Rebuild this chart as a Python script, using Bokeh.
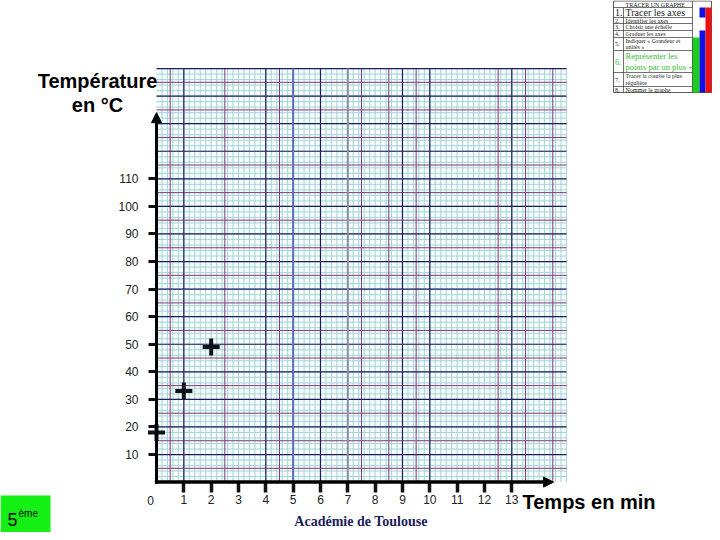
import numpy as np
from bokeh.plotting import figure
from bokeh.models import Range1d, LinearAxis, FixedTicker, Arrow, NormalHead, ColumnDataSource
from bokeh.embed import file_html
from bokeh.resources import INLINE
from bokeh.core.properties import value

# ---------------- data ----------------
time_min = [0, 1, 2]
temperature_c = [18, 33, 49]
x_tick_values = list(range(1, 14))
y_tick_values = list(range(10, 111, 10))
x_zero_label = "0"
x_title = "Temps en min"
y_title = ["Température", "en °C"]
footer = "Académie de Toulouse"
level_main, level_sup = "5", "ème"
steps_header = "TRACER UN GRAPHE"
steps_numbers = ["1.", "2.", "3.", "4.", "5.", "6.", "7.", "8."]
steps_text = [
    ["Tracer les axes"],
    ["Identifier les axes"],
    ["Choisir une échelle"],
    ["Graduer les axes"],
    ["Indiquer « Grandeur et", "unités »"],
    ["Représenter les", "points par un plus +"],
    ["Tracer la courbe la plus", "régulière"],
    ["Nommer le graphe"],
]

# ---------------- layout (pixels of the 720x540 slide) ----------------
ORIGIN_X, PX_PER_MIN = 156.0, 27.33
ORIGIN_Y, PX_PER_DEG = 481.6, 2.757
W, H = 712, 532
GRID_X, GRID_Y = 15, 150


def to_x(px):
    return (px - ORIGIN_X) / PX_PER_MIN


def to_y(py):
    return (ORIGIN_Y - py) / PX_PER_DEG


p = figure(width=W, height=H,
           x_range=Range1d(to_x(0), to_x(W)),
           y_range=Range1d(to_y(H), to_y(0)),
           x_axis_type=None, y_axis_type=None,
           output_backend="svg", toolbar_location=None,
           min_border=0, outline_line_color=None,
           background_fill_color="white", border_fill_color="white")
p.extra_x_ranges = {"px": Range1d(0, W)}
p.extra_y_ranges = {"py": Range1d(H, 0)}
PX = dict(x_range_name="px", y_range_name="py")

# ---------------- graph paper ----------------
p.quad(left=0, right=GRID_X, bottom=0, top=GRID_Y, fill_color="#f4fcfc", line_color=None)
teal_v = np.round(np.arange(0.2, GRID_X + 0.01, 0.2), 2)
teal_h = np.arange(2, GRID_Y + 1, 2)
p.segment(x0=teal_v, y0=0, x1=teal_v, y1=GRID_Y, line_color="#a3cfd3", line_width=0.9)
p.segment(x0=0, y0=teal_h, x1=GRID_X, y1=teal_h, line_color="#a3cfd3", line_width=0.9)
purple_v = [0.5, 2.5, 4.5, 7.5, 8.5, 9.5, 12.5, 13.5, 14.5]
purple_h = np.arange(5, GRID_Y, 10)
p.segment(x0=purple_v, y0=0, x1=purple_v, y1=GRID_Y, line_color="#86387a", line_width=1)
p.segment(x0=0, y0=purple_h, x1=GRID_X, y1=purple_h, line_color="#86387a", line_width=1)
navy_v = [1, 4, 6, 9, 10, 13]
navy_h = np.arange(10, GRID_Y + 1, 10)
p.segment(x0=navy_v, y0=0, x1=navy_v, y1=GRID_Y, line_color="#1d1d5e", line_width=1.2)
p.segment(x0=0, y0=navy_h, x1=GRID_X, y1=navy_h, line_color="#1d1d5e", line_width=1.2)
p.segment(x0=[5], y0=0, x1=[5], y1=GRID_Y, line_color="#5b6fb8", line_width=2)
p.segment(x0=[7], y0=0, x1=[7], y1=GRID_Y, line_color="#8a8ea8", line_width=2)

# ---------------- axes ----------------
common = dict(fixed_location=0, axis_line_color=None, major_tick_in=0,
              major_tick_line_color="#111111", minor_tick_line_color=None,
              major_label_text_font="Liberation Sans", major_label_text_font_size="12px",
              major_label_text_color="#222222")
yaxis = LinearAxis(ticker=FixedTicker(ticks=y_tick_values), major_tick_out=8,
                   major_tick_line_width=3, major_label_standoff=10, **common)
xaxis = LinearAxis(ticker=FixedTicker(ticks=x_tick_values), major_tick_out=10,
                   major_tick_line_width=3.5, major_label_standoff=3, **common)
p.add_layout(yaxis, "left")
p.add_layout(xaxis, "below")

p.add_layout(Arrow(end=NormalHead(size=10, fill_color="black", line_color="black", line_width=1),
                   x_start=0, y_start=-0.6, x_end=0, y_end=134.0,
                   line_width=3, line_color="black"))
p.add_layout(Arrow(end=NormalHead(size=10, fill_color="black", line_color="black", line_width=1),
                   x_start=-0.06, y_start=0, x_end=14.53, y_end=0,
                   line_width=3.5, line_color="black"))

p.text(x=[-0.22], y=[to_y(500)], text=[x_zero_label], text_align="center", text_baseline="middle",
       text_font=value("Liberation Sans"), text_font_size="12px", text_color="#222222")

# ---------------- points ----------------
p.scatter(time_min, temperature_c, marker="cross", size=17, line_width=4, line_color="#10101c")

# ---------------- titles ----------------
p.text(x=[97, 97], y=[80, 104], text=y_title, text_align="center", text_baseline="middle",
       text_font=value("Liberation Sans"), text_font_style="bold", text_font_size="20px",
       text_color="black", **PX)
p.text(x=[522], y=[501], text=[x_title], text_align="left", text_baseline="middle",
       text_font=value("Liberation Sans"), text_font_style="bold", text_font_size="20px",
       text_color="black", **PX)
p.text(x=[360.5], y=[521], text=[footer], text_align="center", text_baseline="middle",
       text_font=value("Liberation Serif"), text_font_style="bold", text_font_size="14px",
       text_color="#1c1c5c", **PX)

# ---------------- "5ème" badge ----------------
p.quad(left=0, right=50, top=495, bottom=H, fill_color="#14f014", line_color=None, **PX)
p.text(x=[7], y=[519], text=[level_main], text_baseline="middle",
       text_font=value("Liberation Sans"), text_font_size="18px", text_color="black", **PX)
p.text(x=[18], y=[513], text=[level_sup], text_baseline="middle",
       text_font=value("Liberation Sans"), text_font_size="10px", text_color="black", **PX)

# ---------------- steps table (top right) ----------------
T_L, T_N, T_T, T_G, T_B, T_R = 613, 623, 692, 699, 705, 711
row_edges = [7, 17, 23, 30, 37, 50, 72, 86, 92]
p.quad(left=T_L, right=T_R, top=0.5, bottom=92, fill_color="white", line_color="#333333",
       line_width=0.8, **PX)
p.quad(left=[T_T], right=[T_G], top=[37], bottom=[92], fill_color="#18d018", line_color=None, **PX)
p.quad(left=[T_G, T_G], right=[T_B, T_B], top=[7, 30], bottom=[17, 92], fill_color="#1010e8",
       line_color=None, **PX)
p.quad(left=[T_B], right=[T_R], top=[7], bottom=[92], fill_color="#ee1010", line_color=None, **PX)
p.segment(x0=T_L, y0=row_edges[:-1], x1=T_T, y1=row_edges[:-1], line_color="#333333",
          line_width=0.7, **PX)
p.segment(x0=[T_N, T_T], y0=[7, 0.5], x1=[T_N, T_T], y1=[92, 92], line_color="#333333",
          line_width=0.7, **PX)
p.text(x=[625], y=[4], text=[steps_header], text_baseline="middle",
       text_font=value("Liberation Serif"), text_font_size="6px", text_color="#222222", **PX)
num_x, num_y, num_size, num_color = [], [], [], []
txt_x, txt_y, txt_t, txt_size, txt_color = [], [], [], [], []
for i, (num, lines) in enumerate(zip(steps_numbers, steps_text)):
    top, bot = row_edges[i], row_edges[i + 1]
    size = "10px" if i == 0 else ("8.5px" if i == 5 else "6px")
    color = "#33c033" if i == 5 else "#222222"
    num_x.append(614.5)
    num_y.append((top + bot) / 2)
    num_size.append(size)
    num_color.append(color)
    step = (bot - top) / len(lines)
    for k, ln in enumerate(lines):
        txt_x.append(625)
        txt_y.append(top + step * (k + 0.5))
        txt_t.append(ln)
        txt_size.append(size)
        txt_color.append(color)
src_n = ColumnDataSource(dict(x=num_x, y=num_y, t=steps_numbers, s=num_size, c=num_color))
src_t = ColumnDataSource(dict(x=txt_x, y=txt_y, t=txt_t, s=txt_size, c=txt_color))
p.text(x="x", y="y", text="t", text_font_size="s", text_color="c", text_baseline="middle",
       text_font=value("Liberation Serif"), source=src_n, **PX)
p.text(x="x", y="y", text="t", text_font_size="s", text_color="c", text_baseline="middle",
       text_font=value("Liberation Serif"), source=src_t, **PX)

open("out.html", "w").write(file_html(p, INLINE))
